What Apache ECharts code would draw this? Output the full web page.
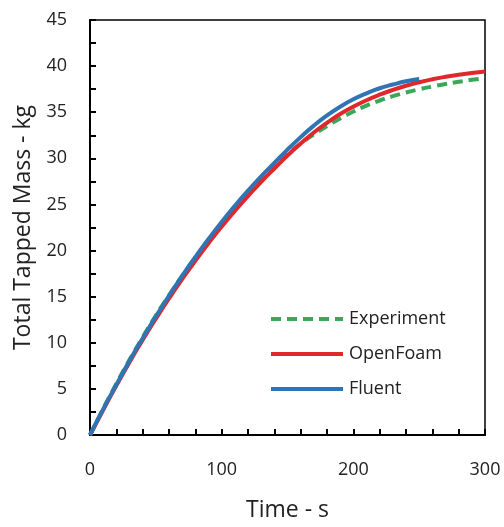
<!DOCTYPE html>
<html>
<head>
<meta charset="utf-8">
<script src="https://cdn.jsdelivr.net/npm/echarts@6/dist/echarts.min.js"></script>
<style>
html,body{margin:0;padding:0;background:#fff;}
#c{width:504px;height:527px;}
</style>
</head>
<body>
<div id="c"></div>
<script>
const seriesNames = ['Experiment', 'OpenFoam', 'Fluent'];
const timeExp = [0,10,20,30,40,50,60,70,80,90,100,110,120,130,140,150,160,170,180,190,200,210,220,230,240,250,260,270,280,290,300];
const massExp = [0,2.85,5.55,8.15,10.6,12.95,15.15,17.25,19.25,21.15,22.95,24.65,26.25,27.75,29.15,30.45,31.6,32.6,33.5,34.33,35.07,35.72,36.27,36.74,37.14,37.49,37.79,38.06,38.3,38.51,38.7];
const timeOF = [0,10,20,30,40,50,60,70,80,90,100,110,120,130,140,150,160,170,180,190,200,210,220,230,240,250,260,270,280,290,300];
const massOF = [0,2.7,5.35,7.9,10.3,12.6,14.8,16.9,18.9,20.8,22.6,24.3,25.9,27.45,28.9,30.3,31.6,32.8,33.85,34.8,35.6,36.3,36.9,37.42,37.87,38.25,38.57,38.84,39.07,39.26,39.42];
const timeFl = [0,10,20,30,40,50,60,70,80,90,100,110,120,130,140,150,160,170,180,190,200,210,220,230,240,250];
const massFl = [0,2.8,5.45,8.05,10.5,12.85,15.1,17.25,19.3,21.25,23.1,24.85,26.5,28.05,29.5,30.95,32.3,33.55,34.65,35.6,36.4,37.05,37.6,38.0,38.35,38.6];
const xTicks = [0,100,200,300];
const yTicks = [0,5,10,15,20,25,30,35,40,45];

const pairs = (t, m) => t.map((v, i) => [v, m[i]]);
const font = '"Open Sans", "Noto Sans", sans-serif';

const chart = echarts.init(document.getElementById('c'), null, {renderer: 'canvas'});
chart.setOption({
  animation: false,
  backgroundColor: '#fff',
  grid: {left: 90, right: 19, top: 20, bottom: 85, show: true, borderColor: '#000', borderWidth: 1.5, containLabel: false},
  legend: {
    orient: 'vertical',
    left: 264, top: 305,
    itemWidth: 72, itemHeight: 12, itemGap: 17,
    data: seriesNames,
    itemStyle: {opacity: 0},
    lineStyle: {width: 4},
    textStyle: {fontFamily: font, fontSize: 18, color: '#222', padding: [0,0,0,1]}
  },
  xAxis: {
    type: 'value', min: xTicks[0], max: xTicks[xTicks.length-1], interval: 100,
    name: 'Time - s', nameLocation: 'middle', nameGap: 64,
    nameTextStyle: {fontFamily: font, fontSize: 23, color: '#222'},
    axisLine: {lineStyle: {color: '#000', width: 2}},
    axisTick: {inside: true, length: 6, lineStyle: {color: '#000', width: 2}},
    minorTick: {show: true, splitNumber: 5, length: 6, lineStyle: {color: '#000', width: 2}},
    axisLabel: {fontFamily: font, fontSize: 18, color: '#222', margin: 26},
    splitLine: {show: false}
  },
  yAxis: {
    type: 'value', min: yTicks[0], max: yTicks[yTicks.length-1], interval: 5,
    name: 'Total Tapped Mass - kg', nameLocation: 'middle', nameGap: 55,
    nameTextStyle: {fontFamily: font, fontSize: 23, color: '#222'},
    axisLine: {lineStyle: {color: '#000', width: 2}},
    axisTick: {inside: true, length: 6, lineStyle: {color: '#000', width: 2}},
    minorTick: {show: true, splitNumber: 2, length: 6, lineStyle: {color: '#000', width: 2}},
    axisLabel: {fontFamily: font, fontSize: 18, color: '#222', margin: 23},
    splitLine: {show: false}
  },
  series: [
    {name: seriesNames[0], type: 'line', data: pairs(timeExp, massExp), smooth: true, symbol: 'none',
     color: '#3aa858', lineStyle: {width: 4, type: [10, 6], color: '#3aa858'}},
    {name: seriesNames[1], type: 'line', data: pairs(timeOF, massOF), smooth: true, symbol: 'none',
     color: '#e0272b', lineStyle: {width: 4, color: '#e0272b'}},
    {name: seriesNames[2], type: 'line', data: pairs(timeFl, massFl), smooth: true, symbol: 'none',
     color: '#2f74b5', lineStyle: {width: 4, color: '#2f74b5'}}
  ]
});
</script>
</body>
</html>
